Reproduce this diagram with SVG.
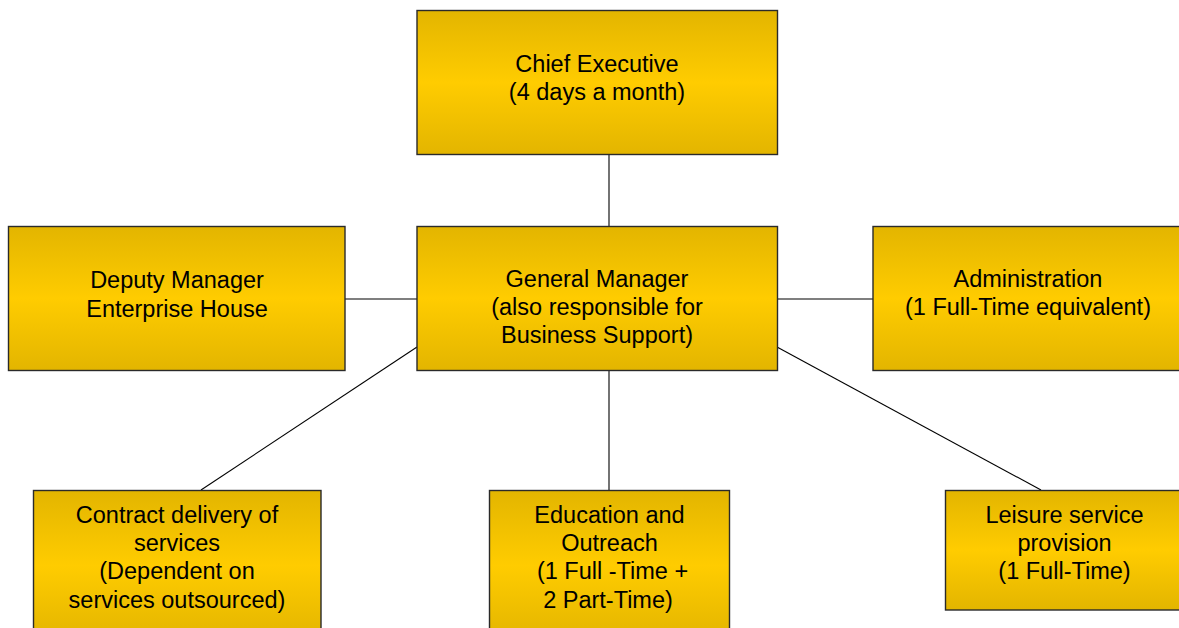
<svg xmlns="http://www.w3.org/2000/svg" width="1179" height="628" viewBox="0 0 1179 628">
  <defs>
    <linearGradient id="gold" x1="0" y1="0" x2="0" y2="1">
      <stop offset="0" stop-color="#E3B500"/>
      <stop offset="0.5" stop-color="#FFCC00"/>
      <stop offset="1" stop-color="#E3B500"/>
    </linearGradient>
  </defs>
  <style>
    .box { fill: url(#gold); stroke: #2a2a2a; stroke-width: 1.4; }
    .lbl { font-family: "Liberation Sans", Arial, sans-serif; font-size: 23.5px; fill: #000; text-anchor: middle; }
    .link { stroke: #000; stroke-width: 1.1; fill: none; }
  </style>
  <rect width="1179" height="628" fill="#fff"/>

  <!-- reporting lines -->
  <g id="connectors">
    <line class="link" x1="609" y1="155" x2="609" y2="227"/>
    <line class="link" x1="345" y1="299" x2="417" y2="299"/>
    <line class="link" x1="777" y1="299" x2="873" y2="299"/>
    <line class="link" x1="417" y1="347" x2="201" y2="490"/>
    <line class="link" x1="609" y1="370" x2="609" y2="490"/>
    <line class="link" x1="777" y1="347" x2="1041" y2="490"/>
  </g>

  <g id="chief-executive">
    <rect class="box" x="417" y="10.5" width="360.5" height="144"/>
    <text class="lbl" x="597" y="71.5">Chief Executive</text>
    <text class="lbl" x="597" y="100">(4 days a month)</text>
  </g>

  <g id="general-manager">
    <rect class="box" x="417" y="226.5" width="360.5" height="144"/>
    <text class="lbl" x="597" y="286.5">General Manager</text>
    <text class="lbl" x="597" y="314.8">(also responsible for</text>
    <text class="lbl" x="597" y="343.1">Business Support)</text>
  </g>

  <g id="deputy-manager">
    <rect class="box" x="8.5" y="226.5" width="336.5" height="144"/>
    <text class="lbl" x="177" y="288.3">Deputy Manager</text>
    <text class="lbl" x="177" y="316.6">Enterprise House</text>
  </g>

  <g id="administration">
    <rect class="box" x="873" y="226.5" width="310" height="144"/>
    <text class="lbl" x="1028" y="286.7">Administration</text>
    <text class="lbl" x="1028" y="315">(1 Full-Time equivalent)</text>
  </g>

  <g id="contract-delivery">
    <rect class="box" x="33.5" y="490.5" width="287.5" height="150"/>
    <text class="lbl" x="177" y="522.7">Contract delivery of</text>
    <text class="lbl" x="177" y="551">services</text>
    <text class="lbl" x="177" y="579.3">(Dependent on</text>
    <text class="lbl" x="177" y="607.6">services outsourced)</text>
  </g>

  <g id="education-outreach">
    <rect class="box" x="489.5" y="490.5" width="240" height="150"/>
    <text class="lbl" x="609.5" y="522.7">Education and</text>
    <text class="lbl" x="609.5" y="551">Outreach</text>
    <text class="lbl" x="612.5" y="579.3">(1 Full -Time +</text>
    <text class="lbl" x="608" y="607.6">2 Part-Time)</text>
  </g>

  <g id="leisure-service">
    <rect class="box" x="945.5" y="490.5" width="238" height="119.5"/>
    <text class="lbl" x="1064.5" y="522.7">Leisure service</text>
    <text class="lbl" x="1064.5" y="551">provision</text>
    <text class="lbl" x="1064.5" y="579.3">(1 Full-Time)</text>
  </g>
</svg>
